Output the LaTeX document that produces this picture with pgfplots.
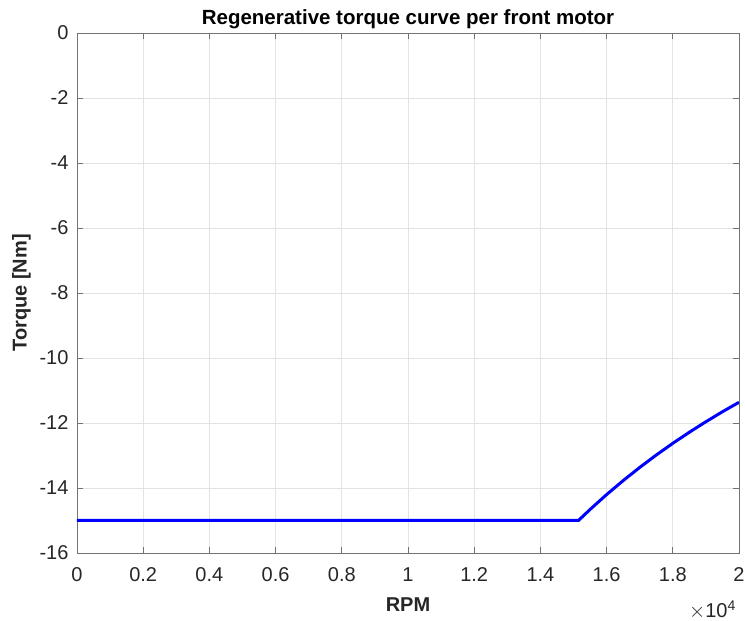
\documentclass[border=0pt]{standalone}
\usepackage{pgfplots}
\pgfplotsset{compat=1.18}
\usepackage{fontspec}
\setmainfont{Liberation Sans}
\definecolor{axgray}{rgb}{0.15,0.15,0.15}
\definecolor{axline}{rgb}{0.45,0.45,0.45}
\begin{document}
\begin{tikzpicture}
\begin{axis}[
  at={(0,0)}, anchor=south west,
  scale only axis, width=662pt, height=520pt,
  xmin=0, xmax=20000, ymin=-16, ymax=0,
  xtick={0,2000,4000,6000,8000,10000,12000,14000,16000,18000,20000},
  xticklabels={0,0.2,0.4,0.6,0.8,1,1.2,1.4,1.6,1.8,2},
  scaled x ticks=false,
  ytick={-16,-14,-12,-10,-8,-6,-4,-2,0},
  /pgf/number format/assume math mode=true,
  tick label style={font=\fontsize{20}{24}\selectfont, text=axgray},
  xticklabel style={yshift=-11pt},
  yticklabel style={xshift=-5pt},
  grid=major,
  major grid style={gray!22, line width=0.7pt},
  axis line style={axline, line width=0.9pt},
  tick style={axline, line width=0.9pt},
  tick align=inside,
  major tick length=6pt,
  clip mode=individual,
  xlabel={\textbf{RPM}}, ylabel={\textbf{Torque [Nm]}},
  label style={font=\fontsize{20}{24}\selectfont, text=axgray},
  title={\textbf{Regenerative torque curve per front motor}},
  title style={font=\fontsize{20.5}{24}\selectfont, yshift=-5pt},
  xlabel style={yshift=-9pt},
  ylabel style={yshift=2pt},
]
\addplot[blue, line width=3pt] coordinates {
(0,-15) (15150,-15) (15500,-14.661) (16000,-14.203) (16500,-13.773)
(17000,-13.368) (17500,-12.986) (18000,-12.625) (18500,-12.284)
(19000,-11.961) (19500,-11.654) (20000,-11.363)
};
\end{axis}
\node[anchor=east, font=\fontsize{20}{24}\selectfont, text=axgray, inner sep=0pt] at (659pt,-57pt) {$\times$10\textsuperscript{4}};
\pgfresetboundingbox
\path (-77pt,-68pt) rectangle (668pt,553pt);
\end{tikzpicture}
\end{document}
